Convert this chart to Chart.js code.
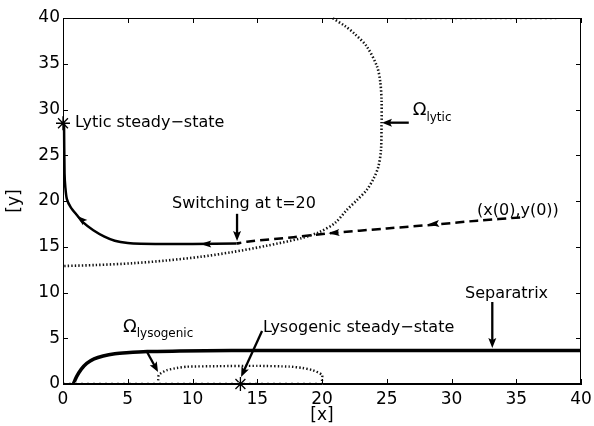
<!DOCTYPE html>
<html><head><meta charset="utf-8">
<script src="https://cdn.jsdelivr.net/npm/chart.js@4"></script>
<style>html,body{margin:0;padding:0;background:#fff}</style>
</head><body>
<canvas id="c" width="594" height="426" style="width:594px;height:426px"></canvas>
<script>
// ---- data ----
const xTickValues = [0, 5, 10, 15, 20, 25, 30, 35, 40];
const yTickValues = [0, 5, 10, 15, 20, 25, 30, 35, 40];

const omegaLytic = [[0.1,12.9],[2.5,13.0],[5.4,13.2],[8,13.5],[10.6,13.9],[13,14.4],[15.7,15.1],[18.3,15.9],[19.8,16.6],[21,17.6],[21.9,19.0],[22.7,20.1],[23.45,21.2],[24.0,22.5],[24.35,23.75],[24.55,25.5],[24.6,28.5],[24.6,31],[24.5,33],[24.25,34.7],[23.45,36.9],[22.5,38.3],[21.8,39.1],[20.8,40]];
const omegaLyticTop = [[26.4,39.9],[38.1,39.9]];
const omegaLysogenic = [[7.35,0.4],[7.4,1.0],[8.0,1.5],[8.8,1.75],[9.55,1.89],[12,1.95],[15,1.98],[17.5,1.9],[18.5,1.75],[19.3,1.5],[20,1.0],[20,0.3]];
const omegaLysogenicBase = [[0,0.12],[20,0.12]];
const lyticTrajectory = [[13.4,15.35],[10,15.3],[8,15.3],[6,15.32],[5,15.4],[4,15.65],[3.2,16.1],[2.34,16.8],[1.6,17.6],[1.05,18.5],[0.6,19.3],[0.3,20.2],[0.18,21.5],[0.12,23],[0.08,28.5]];
const initialTrajectory = [[35.3,18.2],[32,17.85],[28.9,17.45],[25,17.0],[20.8,16.5],[17.8,16.05],[14.2,15.55],[13.4,15.35]];
const separatrix = [[0.8,0],[1.05,0.8],[1.4,1.6],[1.83,2.26],[2.4,2.75],[3.1,3.06],[4,3.3],[4.9,3.42],[6.5,3.55],[9,3.6],[13,3.65],[20,3.65],[30,3.65],[40,3.65]];
const steadyStates = [[0,28.5],[13.7,0]];

// ---- annotations (positions in data units) ----
const labels = [
  {text:'Lytic steady\u2212state', x:0.93, y:28.56, align:'left'},
  {text:'Switching at t=20', x:8.42, y:19.67, align:'left'},
  {text:'(x(0),y(0))', x:31.97, y:18.96, align:'left'},
  {text:'Separatrix', x:34.25, y:9.9, align:'center'},
  {text:'Lysogenic steady\u2212state', x:15.44, y:6.17, align:'left'}
];
const omegaLabels = [
  {sub:'lytic', x:27.0, y:29.9},
  {sub:'lysogenic', x:4.63, y:6.23}
];
const pointerArrows = [
  {from:[13.44,18.6], to:[13.44,15.63]},
  {from:[26.7,28.56], to:[24.63,28.56]},
  {from:[33.15,8.96], to:[33.15,3.93]},
  {from:[15.37,5.79], to:[13.75,0.77]},
  {from:[6.49,3.5], to:[7.34,1.31]}
];
const flowArrows = [
  {at:[10.6,15.3], dir:[-1,0]},
  {at:[1.05,18.4], dir:[-1.3,1.5]},
  {at:[28.2,17.45], dir:[-6.4,-0.75]},
  {at:[20.5,16.47], dir:[-6.4,-0.75]}
];

const FONT = '"DejaVu Sans", "Liberation Sans", sans-serif';
const toXY = a => a.map(p => ({x:p[0], y:p[1]}));

function drawHead(ctx, x, y, ang, len, hw) {
  ctx.save();
  ctx.translate(x, y); ctx.rotate(ang);
  ctx.beginPath();
  ctx.moveTo(0,0); ctx.lineTo(-len, -hw); ctx.lineTo(-len*0.8, 0); ctx.lineTo(-len, hw);
  ctx.closePath(); ctx.fill();
  ctx.restore();
}

const framePlugin = {
  id:'frame',
  afterDraw(chart) {
    const {ctx, chartArea:a, scales:{x, y}} = chart;
    ctx.save();
    ctx.strokeStyle = '#000'; ctx.lineWidth = 1;
    ctx.strokeRect(a.left+0.5, a.top+0.5, a.right-a.left-1, a.bottom-a.top-1);
    ctx.beginPath();
    const L = 5;
    xTickValues.forEach(v => {
      const px = Math.round(x.getPixelForValue(v))+0.5;
      ctx.moveTo(px, a.bottom); ctx.lineTo(px, a.bottom-L);
      ctx.moveTo(px, a.top); ctx.lineTo(px, a.top+L);
    });
    yTickValues.forEach(v => {
      const py = Math.round(y.getPixelForValue(v))+0.5;
      ctx.moveTo(a.left, py); ctx.lineTo(a.left+L, py);
      ctx.moveTo(a.right, py); ctx.lineTo(a.right-L, py);
    });
    ctx.stroke();
    ctx.restore();
  },
  afterDatasetsDraw(chart) {
    const {ctx, scales:{x, y}} = chart;
    const X = v => x.getPixelForValue(v), Y = v => y.getPixelForValue(v);
    ctx.save();
    ctx.fillStyle = '#000'; ctx.strokeStyle = '#000';
    ctx.textBaseline = 'middle';
    ctx.font = '16px ' + FONT;
    labels.forEach(l => {
      ctx.textAlign = l.align;
      ctx.fillText(l.text, X(l.x), Y(l.y));
    });
    ctx.textAlign = 'left';
    omegaLabels.forEach(o => {
      ctx.font = '18px ' + FONT;
      const px = X(o.x), py = Y(o.y);
      ctx.fillText('\u03A9', px, py);
      const w = ctx.measureText('\u03A9').width;
      ctx.font = '12px ' + FONT;
      ctx.fillText(o.sub, px + w, py + 7);
    });
    ctx.lineWidth = 2.3;
    pointerArrows.forEach(a => {
      const x1 = X(a.from[0]), y1 = Y(a.from[1]), x2 = X(a.to[0]), y2 = Y(a.to[1]);
      const ang = Math.atan2(y2-y1, x2-x1);
      ctx.beginPath(); ctx.moveTo(x1,y1); ctx.lineTo(x2 - 6*Math.cos(ang), y2 - 6*Math.sin(ang)); ctx.stroke();
      drawHead(ctx, x2, y2, ang, 10, 4);
    });
    flowArrows.forEach(f => {
      const px = X(f.at[0]), py = Y(f.at[1]);
      const p2x = X(f.at[0]+f.dir[0]), p2y = Y(f.at[1]+f.dir[1]);
      const ang = Math.atan2(p2y-py, p2x-px);
      drawHead(ctx, px, py, ang, 11, 3.5);
    });
    ctx.restore();
  }
};

const line = (data, opts) => Object.assign({data: toXY(data), showLine:true, pointRadius:0, fill:false, tension:0.3, borderColor:'#000', borderCapStyle:'butt', clip:false}, opts);

new Chart(document.getElementById('c'), {
  type:'scatter',
  data:{datasets:[
    line(omegaLyticTop, {borderColor:'#aaa', borderWidth:1.2, borderDash:[2,3], tension:0}),
    line(omegaLysogenicBase, {borderColor:'#bbb', borderWidth:1.5, borderDash:[2,4], tension:0}),
    line(omegaLytic, {borderColor:'#111', borderWidth:2.6, borderDash:[1.4,2.1]}),
    line(omegaLysogenic, {borderColor:'#111', borderWidth:2.4, borderDash:[1.4,2.2], tension:0.2}),
    line(separatrix, {borderWidth:3.5, tension:0.3}),
    line(initialTrajectory, {borderWidth:2.5, borderDash:[9,5]}),
    line(lyticTrajectory, {borderWidth:2.5, tension:0.25}),
    {data: toXY(steadyStates), showLine:false, pointStyle:'star', pointRadius:7, borderColor:'#000', backgroundColor:'#000', pointBorderWidth:1.3, clip:false}
  ]},
  options:{
    responsive:false, animation:false, devicePixelRatio:1,
    layout:{padding:{top:18, right:13, left:0, bottom:0}},
    plugins:{legend:{display:false}, tooltip:{enabled:false}},
    scales:{
      x:{type:'linear', min:0, max:40,
        afterBuildTicks: s => { s.ticks = xTickValues.map(v => ({value:v})); },
        afterFit: s => { s.height = 42; s.paddingLeft = 0; s.paddingRight = 0; },
        grid:{display:false, drawTicks:false}, border:{display:true, color:'#000', width:1},
        ticks:{color:'#000', font:{family:FONT, size:17}, padding:5, maxRotation:0, autoSkip:false},
        title:{display:true, text:'[x]', color:'#000', font:{family:FONT, size:17}, padding:{top:0, bottom:0}}
      },
      y:{type:'linear', min:0, max:40,
        afterBuildTicks: s => { s.ticks = yTickValues.map(v => ({value:v})); },
        afterFit: s => { s.width = 63; s.paddingTop = 0; s.paddingBottom = 0; },
        grid:{display:false, drawTicks:false}, border:{display:true, color:'#000', width:1},
        ticks:{color:'#000', font:{family:FONT, size:17}, padding:3, autoSkip:false},
        title:{display:true, text:'[y]', color:'#000', font:{family:FONT, size:17}, padding:{top:4, bottom:0}}
      }
    }
  },
  plugins:[framePlugin]
});
</script>
</body></html>
